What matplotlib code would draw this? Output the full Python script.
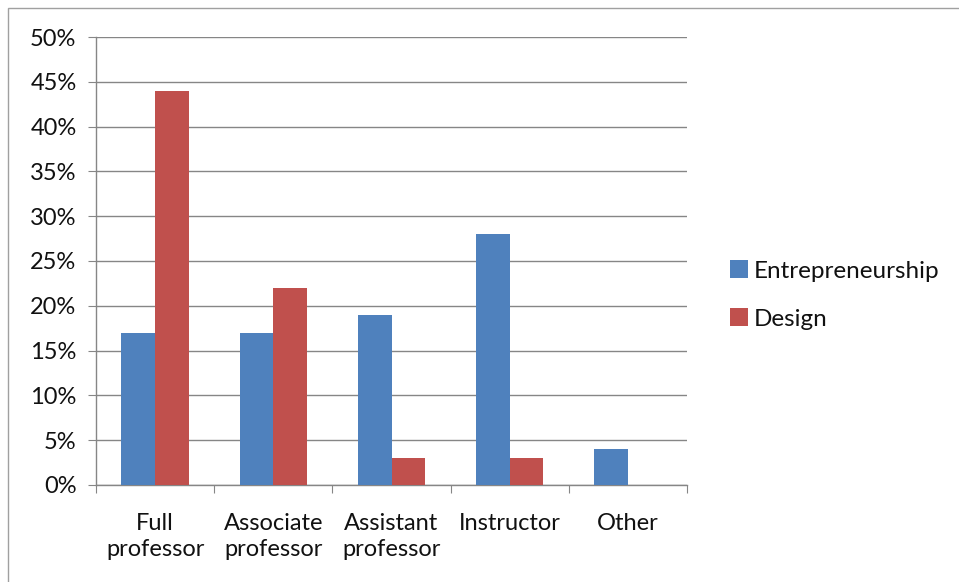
import matplotlib.pyplot as plt
import numpy as np
from matplotlib.patches import Rectangle

categories = ['Full\nprofessor', 'Associate\nprofessor', 'Assistant\nprofessor', 'Instructor', 'Other']
entrepreneurship = [17, 17, 19, 28, 4]
design = [44, 22, 3, 3, 0]

azul = '#4F81BD'
vermelho = '#C0504D'
grade = '#868686'

plt.rcParams['font.family'] = ['Lato', 'DejaVu Sans']

fig = plt.figure(figsize=(9.59, 5.82), dpi=100)
ax = fig.add_axes([0.1001, 0.1667, 0.6163, 0.7697])

x = np.arange(len(categories))
w = 1 / 3.5
ax.bar(x - w / 2, entrepreneurship, w, color=azul, label='Entrepreneurship', zorder=3)
ax.bar(x + w / 2, design, w, color=vermelho, label='Design', zorder=3)

ax.set_xlim(-0.5, len(categories) - 0.5)
ax.set_ylim(0, 50)
ax.set_yticks(range(0, 51, 5))
ax.set_yticklabels([f'{v}%' for v in range(0, 51, 5)], fontsize=17, color='#111111')
ax.yaxis.grid(True, color=grade, linewidth=1, zorder=0)

# ticks do eixo x ficam entre as categorias
ax.set_xticks(np.arange(-0.5, len(categories), 1))
ax.set_xticklabels([])
ax.set_xticks(x, minor=True)
ax.set_xticklabels(categories, minor=True, fontsize=17, linespacing=1.3, color='#111111')
ax.tick_params(axis='x', which='minor', length=0, pad=20)
ax.tick_params(axis='x', which='major', length=6, color=grade, direction='out')
ax.tick_params(axis='y', length=6, color=grade, direction='out', pad=8)

for lado in ['top', 'right']:
    ax.spines[lado].set_visible(False)
for lado in ['left', 'bottom']:
    ax.spines[lado].set_color(grade)
    ax.spines[lado].set_linewidth(1)

leg = ax.legend(loc='center left', bbox_to_anchor=(1.072, 0.424), frameon=False, fontsize=17.5,
                handlelength=0.75, handleheight=0.75, handletextpad=0.25, labelspacing=1.1,
                borderpad=0, borderaxespad=0)
for t in leg.get_texts():
    t.set_color('#111111')

# moldura em volta da figura
fig.patches.append(Rectangle((8 / 959, -0.01), 1.0, 1 - 8 / 582 + 0.01, transform=fig.transFigure,
                             fill=False, edgecolor='#A0A0A0', linewidth=1))

fig.savefig('out.png', dpi=100)
